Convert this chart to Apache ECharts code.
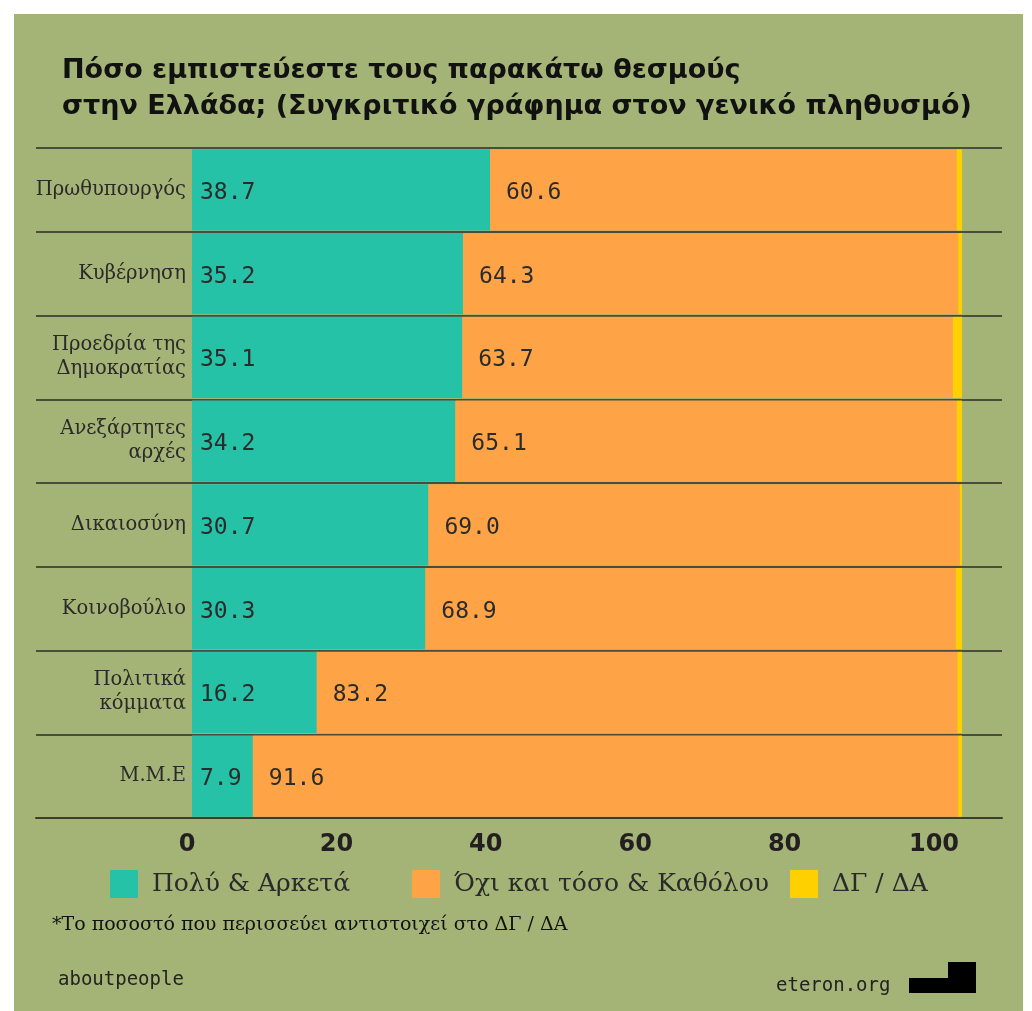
<!DOCTYPE html>
<html>
<head>
<meta charset="utf-8">
<script src="https://cdn.jsdelivr.net/npm/echarts@6/dist/echarts.min.js"></script>
<style>
  body { margin: 0; background: #ffffff; }
  #chart { position: absolute; left: 14px; top: 14px; width: 1009px; height: 997px; background: #a3b476; }
</style>
</head>
<body>
<div id="chart"></div>
<script>
// δεδομένα
const categories = ['Πρωθυπουργός', 'Κυβέρνηση', 'Προεδρία της\nΔημοκρατίας', 'Ανεξάρτητες\nαρχές',
  'Δικαιοσύνη', 'Κοινοβούλιο', 'Πολιτικά\nκόμματα', 'Μ.Μ.Ε'];
const poly = [38.7, 35.2, 35.1, 34.2, 30.7, 30.3, 16.2, 7.9];
const oxi = [60.6, 64.3, 63.7, 65.1, 69.0, 68.9, 83.2, 91.6];
const dgda = [0.7, 0.5, 1.2, 0.7, 0.3, 0.8, 0.6, 0.5];
const tickLabels = [0, 20, 40, 60, 80, 100];
const names = ['Πολύ & Αρκετά', 'Όχι και τόσο & Καθόλου', 'ΔΓ / ΔΑ'];

const chart = echarts.init(document.getElementById('chart'));

const valueLabel = (dist) => ({
  show: true,
  position: 'insideLeft',
  distance: dist,
  offset: [0, 3],
  fontFamily: 'DejaVu Sans Mono',
  fontSize: 23,
  color: '#2b2b2b',
  formatter: (p) => p.value.toFixed(1)
});

const legendText = { fontFamily: 'DejaVu Serif', fontSize: 25, color: '#2a2a2a', padding: [0, 0, 0, 9] };

const option = {
  backgroundColor: 'transparent',
  animation: false,
  title: {
    text: 'Πόσο εμπιστεύεστε τους παρακάτω θεσμούς\nστην Ελλάδα; (Συγκριτικό γράφημα στον γενικό πληθυσμό)',
    left: 43,
    top: 34,
    textStyle: { fontFamily: 'DejaVu Sans', fontWeight: 'bold', fontSize: 27, lineHeight: 36, color: '#111' }
  },
  legend: [
    { data: [names[0]], left: 91, top: 851, icon: 'rect', itemWidth: 28, itemHeight: 28, textStyle: legendText },
    { data: [names[1]], left: 393, top: 851, icon: 'rect', itemWidth: 28, itemHeight: 28, textStyle: legendText },
    { data: [names[2]], left: 771, top: 851, icon: 'rect', itemWidth: 28, itemHeight: 28, textStyle: legendText }
  ],
  grid: { left: 22, right: 21, top: 134, bottom: 193 },
  xAxis: [
    {
      type: 'value',
      min: -20.26,
      max: 105.19,
      axisLine: { show: true, lineStyle: { color: '#3a3e2c', width: 2 } },
      axisTick: { show: false },
      axisLabel: { show: false },
      splitLine: { show: false }
    },
    {
      // μόνο για τις ετικέτες του άξονα
      type: 'value',
      position: 'bottom',
      min: -20.21,
      max: 109.1,
      axisLine: { show: false },
      axisTick: { show: false },
      splitLine: { show: false },
      axisLabel: {
        customValues: tickLabels,
        margin: 15,
        fontFamily: 'DejaVu Sans',
        fontWeight: 'bold',
        fontSize: 24,
        color: '#231f20'
      }
    }
  ],
  yAxis: {
    type: 'category',
    inverse: true,
    data: categories,
    axisLine: { show: false },
    axisTick: { show: false },
    splitLine: { show: true, lineStyle: { color: '#4a4d3a', width: 2 } },
    axisLabel: {
      inside: true,
      align: 'right',
      margin: 150,
      fontFamily: 'DejaVu Serif',
      fontSize: 19.5,
      lineHeight: 24,
      color: '#2a2a2a'
    }
  },
  series: [
    {
      name: names[0], type: 'bar', stack: 'all', data: poly, barCategoryGap: '3%',
      itemStyle: { color: '#26c2a8' }, label: valueLabel(8)
    },
    {
      name: names[1], type: 'bar', stack: 'all', data: oxi,
      itemStyle: { color: '#ffa446' }, label: valueLabel(16)
    },
    {
      name: names[2], type: 'bar', stack: 'all', data: dgda,
      itemStyle: { color: '#ffd000' }
    }
  ],
  graphic: [
    {
      type: 'text', left: 38, top: 902,
      style: { text: '*Το ποσοστό που περισσεύει αντιστοιχεί στο ΔΓ / ΔΑ', fontFamily: 'DejaVu Serif', fontSize: 19, fill: '#111' }
    },
    {
      type: 'text', left: 44, top: 957,
      style: { text: 'aboutpeople', fontFamily: 'DejaVu Sans Mono', fontSize: 19, fill: '#222' }
    },
    {
      type: 'text', left: 762, top: 963,
      style: { text: 'eteron.org', fontFamily: 'DejaVu Sans Mono', fontSize: 19, fill: '#222' }
    },
    { type: 'rect', shape: { x: 895, y: 964, width: 67, height: 15 }, style: { fill: '#000' } },
    { type: 'rect', shape: { x: 934, y: 948, width: 28, height: 17 }, style: { fill: '#000' } }
  ]
};

chart.setOption(option);
window.onresize = function () { chart.resize(); };
</script>
</body>
</html>
